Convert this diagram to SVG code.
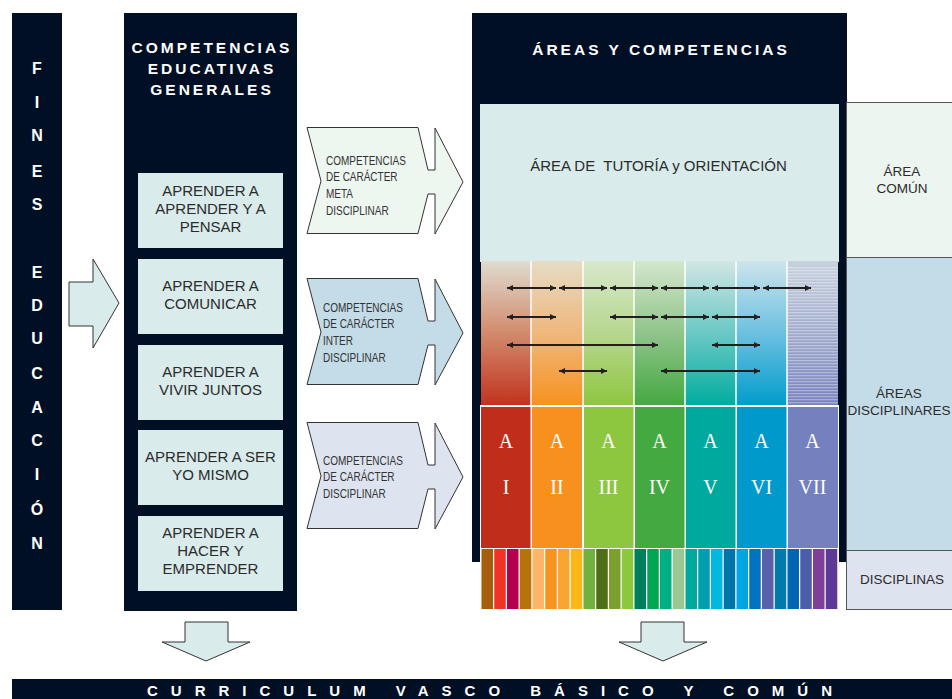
<svg xmlns="http://www.w3.org/2000/svg" width="952" height="699" viewBox="0 0 952 699">
<style>
.dark{fill:#010f24}
.hdr{font-family:"Liberation Sans",Arial,sans-serif;font-weight:bold;font-size:15.5px;fill:#fff;letter-spacing:3px;text-anchor:middle}
.fl{font-family:"Liberation Sans",Arial,sans-serif;font-weight:bold;font-size:16px;fill:#fff;text-anchor:middle}
.box{fill:#d9ebeb}
.bt{font-family:"Liberation Sans",Arial,sans-serif;font-size:15px;fill:#2b2b2b;text-anchor:middle}
.at{font-family:"Liberation Sans",Arial,sans-serif;font-size:12.5px;fill:#333}
.rt{font-family:"Liberation Sans",Arial,sans-serif;font-size:13.5px;fill:#2b2b2b;text-anchor:middle}
.rn{font-family:"Liberation Serif","Times New Roman",serif;font-size:20px;fill:#fff;text-anchor:middle}
.blk{stroke:#333;stroke-width:1}
.dh{stroke:#231f20;stroke-width:2.2;marker-start:url(#ah);marker-end:url(#ah)}
.sep{stroke:#fff;stroke-width:1.5}
</style>
<defs>
<marker id="ah" viewBox="0 0 6 6" refX="6" refY="3" markerWidth="6" markerHeight="6" markerUnits="userSpaceOnUse" orient="auto-start-reverse">
<path d="M0,0 L6,3 L0,6 z" fill="#231f20"/>
</marker>
<linearGradient id="g1" x1="0" y1="0" x2="0" y2="1"><stop offset="0" stop-color="#dfdcd0"/><stop offset="0.5" stop-color="#d28a6c"/><stop offset="1" stop-color="#c1321d"/></linearGradient>
<linearGradient id="g2" x1="0" y1="0" x2="0" y2="1"><stop offset="0" stop-color="#e6dcc4"/><stop offset="0.5" stop-color="#efb77c"/><stop offset="1" stop-color="#f7921e"/></linearGradient>
<linearGradient id="g3" x1="0" y1="0" x2="0" y2="1"><stop offset="0" stop-color="#d8e8cc"/><stop offset="0.5" stop-color="#b6d78e"/><stop offset="1" stop-color="#8ec63f"/></linearGradient>
<linearGradient id="g4" x1="0" y1="0" x2="0" y2="1"><stop offset="0" stop-color="#d4e6cc"/><stop offset="0.5" stop-color="#8fc48a"/><stop offset="1" stop-color="#44a840"/></linearGradient>
<linearGradient id="g5" x1="0" y1="0" x2="0" y2="1"><stop offset="0" stop-color="#d0e6e4"/><stop offset="0.5" stop-color="#6ac8c4"/><stop offset="1" stop-color="#00aca0"/></linearGradient>
<linearGradient id="g6" x1="0" y1="0" x2="0" y2="1"><stop offset="0" stop-color="#cce4ec"/><stop offset="0.5" stop-color="#6cc0e0"/><stop offset="1" stop-color="#009ccc"/></linearGradient>
<linearGradient id="g7" x1="0" y1="0" x2="0" y2="1"><stop offset="0" stop-color="#c8d2de"/><stop offset="0.5" stop-color="#a0aacc"/><stop offset="1" stop-color="#7680bc"/></linearGradient>
<pattern id="stripes" x="0" y="0" width="10" height="3" patternUnits="userSpaceOnUse"><rect x="0" y="0" width="10" height="1.3" fill="#fff" fill-opacity="0.35"/></pattern>
</defs>
<rect width="952" height="699" fill="#fff"/>

<g id="fines">
<rect class="dark" x="12" y="13" width="50" height="597"/>
<text class="fl" x="37" y="74">F</text>
<text class="fl" x="37" y="108">I</text>
<text class="fl" x="37" y="141">N</text>
<text class="fl" x="37" y="177">E</text>
<text class="fl" x="37" y="210">S</text>
<text class="fl" x="37" y="278">E</text>
<text class="fl" x="37" y="311">D</text>
<text class="fl" x="37" y="344">U</text>
<text class="fl" x="37" y="379">C</text>
<text class="fl" x="37" y="413">A</text>
<text class="fl" x="37" y="446">C</text>
<text class="fl" x="37" y="480">I</text>
<text class="fl" x="37" y="515">Ó</text>
<text class="fl" x="37" y="549">N</text>
</g>

<g id="competencias-generales">
<rect class="dark" x="124" y="13" width="173" height="598"/>
<text class="hdr" x="212" y="53">COMPETENCIAS</text>
<text class="hdr" x="212" y="74">EDUCATIVAS</text>
<text class="hdr" x="212" y="95">GENERALES</text>
</g>
<g id="aprender-pensar">
<rect class="box" x="138" y="173" width="145" height="75"/>
<text class="bt" x="210.5" y="196">APRENDER A</text>
<text class="bt" x="210.5" y="214">APRENDER Y A</text>
<text class="bt" x="210.5" y="232">PENSAR</text>
</g>
<g id="aprender-comunicar">
<rect class="box" x="138" y="259" width="145" height="75"/>
<text class="bt" x="210.5" y="291">APRENDER A</text>
<text class="bt" x="210.5" y="309">COMUNICAR</text>
</g>
<g id="aprender-vivir">
<rect class="box" x="138" y="345" width="145" height="75"/>
<text class="bt" x="210.5" y="377">APRENDER A</text>
<text class="bt" x="210.5" y="395">VIVIR JUNTOS</text>
</g>
<g id="aprender-ser">
<rect class="box" x="138" y="430" width="145" height="75"/>
<text class="bt" x="210.5" y="462">APRENDER A SER</text>
<text class="bt" x="210.5" y="480">YO MISMO</text>
</g>
<g id="aprender-hacer">
<rect class="box" x="138" y="516" width="145" height="75"/>
<text class="bt" x="210.5" y="538">APRENDER A</text>
<text class="bt" x="210.5" y="556">HACER Y</text>
<text class="bt" x="210.5" y="574">EMPRENDER</text>
</g>

<g id="areas-competencias">
<rect class="dark" x="472" y="13" width="375" height="549"/>
<text class="hdr" x="661" y="55">ÁREAS Y COMPETENCIAS</text>
</g>
<g id="tutoria">
<rect x="480" y="104" width="359" height="158" fill="#d9ebeb"/>
<text class="bt" x="658.5" y="171" xml:space="preserve">ÁREA DE  TUTORÍA y ORIENTACIÓN</text>
</g>
<g id="gradient-areas">
<rect x="481" y="261" width="50" height="145" fill="url(#g1)"/>
<rect x="531" y="261" width="52" height="145" fill="url(#g2)"/>
<rect x="583" y="261" width="51" height="145" fill="url(#g3)"/>
<rect x="634" y="261" width="51" height="145" fill="url(#g4)"/>
<rect x="685" y="261" width="51" height="145" fill="url(#g5)"/>
<rect x="736" y="261" width="51" height="145" fill="url(#g6)"/>
<rect x="787" y="261" width="51" height="145" fill="url(#g7)"/>
<rect x="787" y="267" width="51" height="139" fill="url(#stripes)"/>
<line class="sep" x1="531" y1="261" x2="531" y2="406"/>
<line class="sep" x1="583" y1="261" x2="583" y2="406"/>
<line class="sep" x1="634" y1="261" x2="634" y2="406"/>
<line class="sep" x1="685" y1="261" x2="685" y2="406"/>
<line class="sep" x1="736" y1="261" x2="736" y2="406"/>
<line class="sep" x1="787" y1="261" x2="787" y2="406"/>
</g>
<g id="areas-a">
<rect x="480" y="405" width="359" height="144" fill="#fff"/>
<rect x="481" y="407" width="49.5" height="141" fill="#c12d1b"/>
<rect x="532" y="407" width="50" height="141" fill="#f7901e"/>
<rect x="584" y="407" width="49.5" height="141" fill="#8dc63f"/>
<rect x="635" y="407" width="49.5" height="141" fill="#43a940"/>
<rect x="686" y="407" width="49.5" height="141" fill="#00a99d"/>
<rect x="737" y="407" width="49.5" height="141" fill="#0099cc"/>
<rect x="788" y="407" width="50" height="141" fill="#7580bf"/>
<text class="rn" x="506" y="448">A</text><text class="rn" x="506" y="494">I</text>
<text class="rn" x="557" y="448">A</text><text class="rn" x="557" y="494">II</text>
<text class="rn" x="608.5" y="448">A</text><text class="rn" x="608.5" y="494">III</text>
<text class="rn" x="659.5" y="448">A</text><text class="rn" x="659.5" y="494">IV</text>
<text class="rn" x="710.5" y="448">A</text><text class="rn" x="710.5" y="494">V</text>
<text class="rn" x="761.5" y="448">A</text><text class="rn" x="761.5" y="494">VI</text>
<text class="rn" x="812.5" y="448">A</text><text class="rn" x="812.5" y="494">VII</text>
</g>
<g id="disciplinas-strips">
<rect x="480" y="548" width="359" height="61" fill="#fdfaf5"/>
<rect x="481.5" y="549" width="11.5" height="60" fill="#a65e0c"/>
<rect x="494.25" y="549" width="11.5" height="60" fill="#ef3324"/>
<rect x="507" y="549" width="11.5" height="60" fill="#b5004f"/>
<rect x="519.75" y="549" width="11.5" height="60" fill="#b5730a"/>
<rect x="532.5" y="549" width="11.5" height="60" fill="#fdb66a"/>
<rect x="545.25" y="549" width="11.5" height="60" fill="#f7941d"/>
<rect x="558" y="549" width="11.5" height="60" fill="#f9a533"/>
<rect x="570.75" y="549" width="11.5" height="60" fill="#fcb716"/>
<rect x="583.5" y="549" width="11.5" height="60" fill="#71b23e"/>
<rect x="596.25" y="549" width="11.5" height="60" fill="#4e6e1a"/>
<rect x="609" y="549" width="11.5" height="60" fill="#7ba02e"/>
<rect x="621.75" y="549" width="11.5" height="60" fill="#8dc63f"/>
<rect x="634.5" y="549" width="11.5" height="60" fill="#007f5f"/>
<rect x="647.25" y="549" width="11.5" height="60" fill="#00a651"/>
<rect x="660" y="549" width="11.5" height="60" fill="#00b084"/>
<rect x="672.75" y="549" width="11.5" height="60" fill="#9bc794"/>
<rect x="685.5" y="549" width="11.5" height="60" fill="#00a99d"/>
<rect x="698.25" y="549" width="11.5" height="60" fill="#009faf"/>
<rect x="711" y="549" width="11.5" height="60" fill="#00b8e0"/>
<rect x="723.75" y="549" width="11.5" height="60" fill="#0075a8"/>
<rect x="736.5" y="549" width="11.5" height="60" fill="#00a4e0"/>
<rect x="749.25" y="549" width="11.5" height="60" fill="#0074c0"/>
<rect x="762" y="549" width="11.5" height="60" fill="#5961aa"/>
<rect x="774.75" y="549" width="11.5" height="60" fill="#0079ad"/>
<rect x="787.5" y="549" width="11.5" height="60" fill="#0065b3"/>
<rect x="800.25" y="549" width="11.5" height="60" fill="#4d5ea8"/>
<rect x="813" y="549" width="11.5" height="60" fill="#7d3f98"/>
<rect x="825.75" y="549" width="11.5" height="60" fill="#5c3a96"/>
</g>

<g id="area-comun">
<rect x="846.5" y="102.5" width="115" height="155" fill="#edf5f0" stroke="#555" stroke-width="1"/>
<text class="rt" x="902" y="176">ÁREA</text>
<text class="rt" x="902" y="193">COMÚN</text>
</g>
<g id="areas-disciplinares">
<rect x="846.5" y="257.5" width="115" height="293" fill="#c4dce8" stroke="#555" stroke-width="1"/>
<text class="rt" x="899" y="398">ÁREAS</text>
<text class="rt" x="899" y="415">DISCIPLINARES</text>
</g>
<g id="disciplinas">
<rect x="846.5" y="550.5" width="115" height="59" fill="#dde3ef" stroke="#555" stroke-width="1"/>
<text class="rt" x="902" y="584">DISCIPLINAS</text>
</g>

<g id="curriculum">
<rect class="dark" x="12" y="679" width="940" height="20"/>
<text x="147" y="696" textLength="685" lengthAdjust="spacing" font-family="'Liberation Sans',Arial,sans-serif" font-weight="bold" font-size="15" fill="#fff">CURRICULUM VASCO BÁSICO Y COMÚN</text>
</g>

<g id="connectors">
<path class="blk" d="M69,282 H93 V259 L119,303 L93,348 V326 H69 Z" fill="#d9ebeb"/>
<g id="meta">
<path class="blk" d="M307,127.5 H418 L428,170 H435 V128 L463,182 L435,234 V194 H428 L418,233.5 H307 L321,181 Z" fill="#eef6f0"/>
<g transform="translate(326,0) scale(0.8,1)">
<text class="at" x="0" y="165">COMPETENCIAS</text>
<text class="at" x="0" y="181.5">DE CARÁCTER</text>
<text class="at" x="0" y="198">META</text>
<text class="at" x="0" y="215">DISCIPLINAR</text>
</g>
</g>
<g id="inter">
<path class="blk" d="M307,278.5 H418 L428,321 H435 V279 L463,333 L435,385 V345 H428 L418,384.5 H307 L321,332 Z" fill="#c4dce8"/>
<g transform="translate(323,0) scale(0.8,1)">
<text class="at" x="0" y="312">COMPETENCIAS</text>
<text class="at" x="0" y="328.5">DE CARÁCTER</text>
<text class="at" x="0" y="345">INTER</text>
<text class="at" x="0" y="362">DISCIPLINAR</text>
</g>
</g>
<g id="disciplinar">
<path class="blk" d="M307,422.5 H418 L428,465 H435 V423 L463,477 L435,529 V489 H428 L418,528.5 H307 L321,476 Z" fill="#dde3ef"/>
<g transform="translate(323,0) scale(0.8,1)">
<text class="at" x="0" y="465">COMPETENCIAS</text>
<text class="at" x="0" y="481.5">DE CARÁCTER</text>
<text class="at" x="0" y="498">DISCIPLINAR</text>
</g>
</g>
<path class="blk" d="M185,622 H228 V642 H250 L206,661 L162,642 H185 Z" fill="#d9ebeb"/>
<path class="blk" d="M641,622 H684 V642 H707 L663,661 L619,642 H641 Z" fill="#d9ebeb"/>
<line class="dh" x1="507" y1="288" x2="556" y2="288"/>
<line class="dh" x1="559" y1="288" x2="607" y2="288"/>
<line class="dh" x1="610" y1="288" x2="658" y2="288"/>
<line class="dh" x1="661" y1="288" x2="709" y2="288"/>
<line class="dh" x1="712" y1="288" x2="760" y2="288"/>
<line class="dh" x1="763" y1="288" x2="811" y2="288"/>
<line class="dh" x1="507" y1="317" x2="556" y2="317"/>
<line class="dh" x1="610" y1="317" x2="658" y2="317"/>
<line class="dh" x1="661" y1="317" x2="709" y2="317"/>
<line class="dh" x1="712" y1="317" x2="760" y2="317"/>
<line class="dh" x1="507" y1="345" x2="658" y2="345"/>
<line class="dh" x1="712" y1="345" x2="760" y2="345"/>
<line class="dh" x1="559" y1="371" x2="607" y2="371"/>
<line class="dh" x1="661" y1="371" x2="760" y2="371"/>
</g>
</svg>
